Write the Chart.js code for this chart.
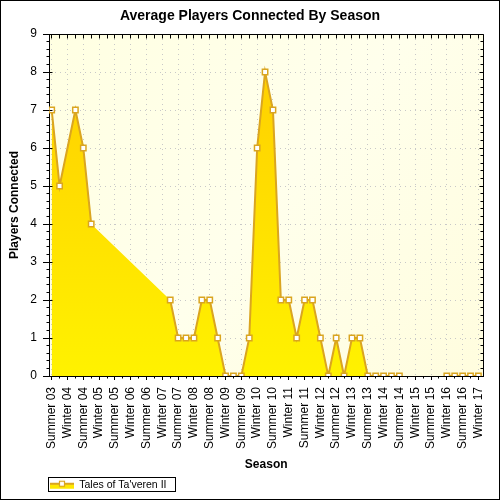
<!DOCTYPE html>
<html>
<head>
<meta charset="utf-8">
<title>Average Players Connected By Season</title>
<script src="https://cdn.jsdelivr.net/npm/chart.js@4.4.1/dist/chart.umd.min.js"></script>
<style>
    html, body { margin: 0; padding: 0; background: #fff; }
    canvas { display: block; }
</style>
</head>
<body>
<canvas id="players-chart" width="500" height="500"></canvas>
<script>
// season labels, one every two sample slots
const seasons = [
    'Summer 03', 'Winter 04', 'Summer 04', 'Winter 05', 'Summer 05', 'Winter 06',
    'Summer 06', 'Winter 07', 'Summer 07', 'Winter 08', 'Summer 08', 'Winter 09',
    'Summer 09', 'Winter 10', 'Summer 10', 'Winter 11', 'Summer 11', 'Winter 12',
    'Summer 12', 'Winter 13', 'Summer 13', 'Winter 14', 'Summer 14', 'Winter 15',
    'Summer 15', 'Winter 16', 'Summer 16', 'Winter 17'
];

// sample slot of each reading (gaps = no data)
const sampleSlot = [
    0, 1, 3, 4, 5,
    15, 16, 17, 18, 19, 20, 21, 22, 23, 24,
    25, 26, 27, 28, 29, 30, 31, 32, 33, 34,
    35, 36, 37, 38, 39, 40, 41, 42, 43, 44,
    50, 51, 52, 53, 54
];
const players = [
    7, 5, 7, 6, 4,
    2, 1, 1, 1, 2, 2, 1, 0, 0, 0,
    1, 6, 8, 7, 2, 2, 1, 2, 2, 1,
    0, 1, 0, 1, 1, 0, 0, 0, 0, 0,
    0, 0, 0, 0, 0
];

const seriesName = "Tales of Ta'veren II";
const lineColor = '#DAA520';

Chart.defaults.font.family = "'Liberation Sans', Arial, sans-serif";
Chart.defaults.color = '#000';

const points = sampleSlot.map(function (slot, i) {
    return {x: slot, y: players[i]};
});

function px(v) {
    return Math.round(v - 0.5) + 0.5;
}

function fillGradient(context) {
    const area = context.chart.chartArea;
    if (!area) {
        return '#FFE600';
    }
    const g = context.chart.ctx.createLinearGradient(0, area.top, 0, area.bottom);
    g.addColorStop(0, '#FFCC00');
    g.addColorStop(1, '#FFF200');
    return g;
}

// little line+marker picture for the legend
function makeLegendIcon() {
    const c = document.createElement('canvas');
    c.width = 24;
    c.height = 12;
    const g = c.getContext('2d');
    g.fillStyle = '#FFE800';
    g.fillRect(0, 5, 24, 5);
    g.strokeStyle = lineColor;
    g.lineWidth = 2;
    g.beginPath();
    g.moveTo(0, 5);
    g.lineTo(24, 5);
    g.stroke();
    g.fillStyle = '#fff';
    g.lineWidth = 1.2;
    g.fillRect(9.5, 2.5, 5, 5);
    g.strokeRect(9.5, 2.5, 5, 5);
    return c;
}
const legendIcon = makeLegendIcon();

// background, frame, minor ticks, legend box
const chartFrame = {
    id: 'chartFrame',
    afterLayout: function (chart) {
        chart.legend.left = chart.chartArea.left - 2;
        // title centred on the whole picture, not the padded box
        if (chart.titleBlock) {
            chart.titleBlock.right = chart.width;
            chart.titleBlock.width = chart.width;
        }
    },
    beforeDraw: function (chart) {
        const ctx = chart.ctx;
        const a = chart.chartArea;
        ctx.save();
        ctx.fillStyle = '#fff';
        ctx.fillRect(0, 0, chart.width, chart.height);
        const g = ctx.createLinearGradient(a.left, a.top, a.right, a.bottom);
        g.addColorStop(0, '#FFFFE2');
        g.addColorStop(0.5, '#FFFFEC');
        g.addColorStop(1, '#FFFDDE');
        ctx.fillStyle = g;
        ctx.fillRect(a.left, a.top, a.right - a.left, a.bottom - a.top);
        ctx.restore();
    },
    afterDraw: function (chart) {
        const ctx = chart.ctx;
        const a = chart.chartArea;
        const xs = chart.scales.x;
        const ys = chart.scales.y;
        const l = px(a.left), r = px(a.right), t = px(a.top), b = px(a.bottom);

        ctx.save();
        ctx.strokeStyle = '#000';
        ctx.lineWidth = 1;
        ctx.beginPath();
        ctx.moveTo(l, t);
        ctx.lineTo(r, t);
        ctx.lineTo(r, b);

        const steps = (ys.max - ys.min) * 5;
        for (let i = 0; i <= steps; i++) {
            const yy = px(ys.getPixelForValue(ys.min + i / 5));
            const major = i % 5 === 0;
            if (major) {
                ctx.moveTo(l, yy);
                ctx.lineTo(l + 3, yy);
            } else {
                ctx.moveTo(l - 3, yy);
                ctx.lineTo(l, yy);
            }
            ctx.moveTo(r, yy);
            ctx.lineTo(r - (major ? 4 : 3), yy);
        }
        for (let i = Math.ceil(xs.min); i <= xs.max; i++) {
            const xx = px(xs.getPixelForValue(i));
            ctx.moveTo(xx, t);
            ctx.lineTo(xx, t + 4);
            if (i % 2) {
                ctx.moveTo(xx, b);
                ctx.lineTo(xx, b + 2);
            }
        }
        ctx.stroke();

        // legend frame
        const hb = chart.legend.legendHitBoxes[0];
        if (hb) {
            const cy = hb.top + hb.height / 2;
            ctx.strokeRect(px(hb.left - 2), px(cy - 7), Math.round(hb.width + 11), 14);
        }

        // outer border
        ctx.strokeRect(0.5, 0.5, chart.width - 1, chart.height - 1);
        ctx.restore();
    }
};

new Chart(document.getElementById('players-chart'), {
    type: 'line',
    data: {
        datasets: [{
            // outline and markers
            label: seriesName,
            data: points,
            order: 1,
            borderColor: lineColor,
            borderWidth: 2,
            fill: false,
            tension: 0,
            pointStyle: 'rect',
            pointRadius: 3.8,
            pointBackgroundColor: '#fff',
            pointBorderColor: lineColor,
            pointBorderWidth: 1.5,
            segment: {
                // long gaps have no line, only the filled area
                borderColor: function (ctx) {
                    return ctx.p1.parsed.x - ctx.p0.parsed.x > 2 ? 'rgba(0,0,0,0)' : undefined;
                }
            }
        }, {
            // filled area under the same readings
            label: seriesName + ' area',
            data: points,
            order: 2,
            borderWidth: 0,
            borderColor: 'rgba(0,0,0,0)',
            backgroundColor: fillGradient,
            fill: 'origin',
            tension: 0,
            pointRadius: 0
        }]
    },
    options: {
        responsive: false,
        animation: false,
        events: [],
        layout: {
            padding: {left: 0, right: 15, top: 0, bottom: 0}
        },
        scales: {
            x: {
                type: 'linear',
                min: -0.34,
                max: 54.63,
                afterFit: function (scale) {
                    scale.height = 100.5;
                },
                ticks: {
                    stepSize: 2,
                    includeBounds: false,
                    autoSkip: false,
                    minRotation: 90,
                    maxRotation: 90,
                    padding: 7,
                    color: '#000',
                    font: {size: 12},
                    callback: function (value) {
                        return seasons[value / 2] || '';
                    }
                },
                grid: {
                    color: '#C8C8C8',
                    tickColor: '#000',
                    tickLength: 4
                },
                border: {
                    display: true,
                    color: '#000',
                    width: 1,
                    dash: [1, 4]
                },
                title: {
                    display: true,
                    text: 'Season',
                    color: '#000',
                    font: {size: 12, weight: 'bold'},
                    padding: {top: 0, bottom: 4.3}
                }
            },
            y: {
                min: 0,
                max: 9,
                afterFit: function (scale) {
                    scale.width = 49;
                },
                ticks: {
                    stepSize: 1,
                    padding: 6,
                    color: '#000',
                    font: {size: 12}
                },
                grid: {
                    color: '#C8C8C8',
                    tickColor: '#000',
                    tickLength: 6
                },
                border: {
                    display: true,
                    color: '#000',
                    width: 1,
                    dash: [1, 4]
                },
                title: {
                    display: true,
                    text: 'Players Connected',
                    color: '#000',
                    font: {size: 12, weight: 'bold'},
                    padding: {top: 7.3, bottom: 0}
                }
            }
        },
        plugins: {
            title: {
                display: true,
                text: 'Average Players Connected By Season',
                color: '#000',
                font: {size: 14, weight: 'bold'},
                padding: {top: 8, bottom: 9.2}
            },
            legend: {
                position: 'bottom',
                align: 'start',
                labels: {
                    usePointStyle: true,
                    pointStyleWidth: 24,
                    padding: 3,
                    color: '#000',
                    font: {size: 10.5},
                    filter: function (item) {
                        return item.datasetIndex === 0;
                    },
                    generateLabels: function (chart) {
                        const items = Chart.defaults.plugins.legend.labels.generateLabels(chart);
                        items.forEach(function (item) {
                            item.pointStyle = legendIcon;
                        });
                        return items;
                    }
                }
            },
            tooltip: {enabled: false}
        }
    },
    plugins: [chartFrame]
});
</script>
</body>
</html>
